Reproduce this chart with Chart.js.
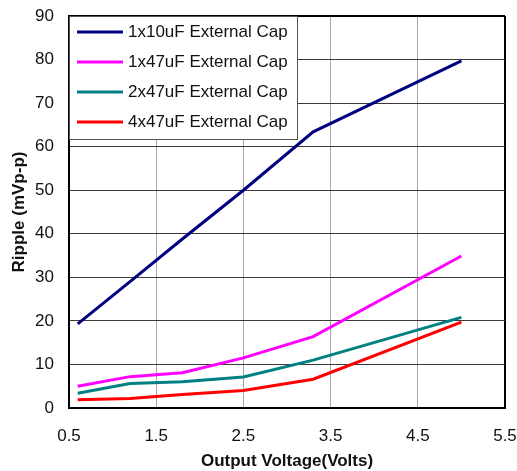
<!DOCTYPE html>
<html>
<head>
<meta charset="utf-8">
<script src="https://cdn.jsdelivr.net/npm/chart.js@4.4.0/dist/chart.umd.min.js"></script>
<style>
  html, body { margin: 0; padding: 0; background: #fff; }
</style>
</head>
<body>
<canvas id="chart" width="517" height="471"></canvas>
<script>
const volts = [0.6, 1.2, 1.8, 2.5, 3.3, 5.0];
const cap1x10 = [19.3, 29.0, 38.8, 50.0, 63.4, 79.7];
const cap1x47 = [5.0, 7.2, 8.1, 11.5, 16.4, 34.9];
const cap2x47 = [3.4, 5.6, 6.0, 7.1, 11.0, 20.8];
const cap4x47 = [1.9, 2.2, 3.1, 4.0, 6.6, 19.7];
const seriesNames = ['1x10uF External Cap', '1x47uF External Cap', '2x47uF External Cap', '4x47uF External Cap'];
const xTicks = [0.5, 1.5, 2.5, 3.5, 4.5, 5.5];

const font = '"Liberation Sans", Arial, sans-serif';

function pts(vals) {
  return volts.map((v, i) => ({ x: v, y: vals[i] }));
}

function line(label, vals, color) {
  return {
    label: label,
    data: pts(vals),
    borderColor: color,
    backgroundColor: color,
    borderWidth: 3,
    pointRadius: 0,
    showLine: true,
    tension: 0
  };
}

// no extra room for the edge labels, the layout padding does it
function noPad(s) {
  s.paddingTop = 0;
  s.paddingBottom = 0;
  s.paddingLeft = 0;
  s.paddingRight = 0;
}

// legend box drawn inside the plot, top left
const legendBox = {
  id: 'legendBox',
  afterDatasetsDraw(chart) {
    const { ctx, chartArea } = chart;
    const x = chartArea.left, y = chartArea.top, w = 228, h = 123;
    ctx.save();
    ctx.fillStyle = '#fff';
    ctx.fillRect(x, y, w, h);
    ctx.strokeStyle = '#555';
    ctx.lineWidth = 1;
    ctx.strokeRect(x + 0.5, y + 0.5, w, h);
    ctx.font = '17px ' + font;
    ctx.textBaseline = 'middle';
    chart.data.datasets.forEach((ds, i) => {
      const cy = y + 16 + i * 30;
      ctx.strokeStyle = ds.borderColor;
      ctx.lineWidth = 3;
      ctx.beginPath();
      ctx.moveTo(x + 8, cy);
      ctx.lineTo(x + 54, cy);
      ctx.stroke();
      ctx.fillStyle = '#111';
      ctx.fillText(ds.label, x + 59, cy);
    });
    ctx.restore();
  }
};

new Chart(document.getElementById('chart'), {
  type: 'scatter',
  data: {
    datasets: [
      line(seriesNames[0], cap1x10, '#000080'),
      line(seriesNames[1], cap1x47, '#ff00ff'),
      line(seriesNames[2], cap2x47, '#008080'),
      line(seriesNames[3], cap4x47, '#ff0000')
    ]
  },
  options: {
    responsive: false,
    animation: false,
    layout: { padding: { top: 16, right: 12, left: 0, bottom: 0 } },
    plugins: {
      legend: { display: false },
      tooltip: { enabled: false }
    },
    scales: {
      x: {
        type: 'linear',
        min: 0.5,
        max: 5.5,
        afterBuildTicks: s => { s.ticks = xTicks.map(v => ({ value: v })); },
        afterFit: s => { s.height = 63; noPad(s); },
        grid: {
          drawTicks: false,
          color: c => c.tick && c.tick.value === 5.5 ? '#000' : '#a6a6a6',
          lineWidth: c => c.tick && c.tick.value === 5.5 ? 2 : 1
        },
        border: { color: '#000', width: 2 },
        ticks: {
          padding: 18,
          color: '#111',
          font: { family: font, size: 17 },
          callback: v => v.toFixed(1)
        },
        title: {
          display: true,
          text: 'Output Voltage(Volts)',
          color: '#111',
          padding: { top: 0, bottom: 0 },
          font: { family: font, size: 17, weight: 'bold', lineHeight: 1.1 }
        }
      },
      y: {
        min: 0,
        max: 90,
        afterFit: s => { s.width = 69; noPad(s); },
        grid: {
          drawTicks: false,
          color: c => c.tick && c.tick.value === 90 ? '#000' : '#3a3a3a',
          lineWidth: c => c.tick && c.tick.value === 90 ? 2 : 1
        },
        border: { color: '#000', width: 2 },
        ticks: {
          stepSize: 10,
          padding: 15,
          color: '#111',
          font: { family: font, size: 17 }
        },
        title: {
          display: true,
          text: 'Ripple (mVp-p)',
          color: '#111',
          padding: { top: 9, bottom: 0 },
          font: { family: font, size: 17, weight: 'bold' }
        }
      }
    }
  },
  plugins: [legendBox]
});
</script>
</body>
</html>
